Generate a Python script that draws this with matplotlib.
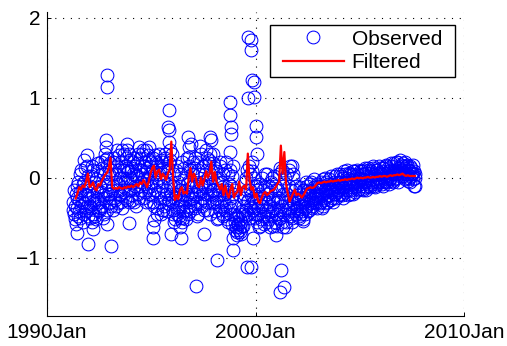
import numpy as np
import matplotlib
matplotlib.use("Agg")
import matplotlib.pyplot as plt
from matplotlib.path import Path

# ---------------- data ----------------
obs_start = 1991.25          # first semi-monthly observation (series A)
obs_b_start = 1991.27        # second interleaved observation series (B)
obs_per_year = 24
observed = (
    # 1991 (from Apr)
    [-0.30, -0.45, -0.52, -0.20, -0.38, -0.10, -0.48, -0.28, 0.05, -0.35, -0.15, -0.55,
     -0.05, -0.32, 0.12, -0.42, -0.22, 0.02]
    # 1992
    + [-0.25, -0.50, -0.10, -0.38, 0.15, -0.45, -0.28, -0.05, -0.52, -0.18, 0.08, -0.40,
       -0.30, -0.12, 0.20, -0.35, -0.22, 0.05, -0.45, 0.30, -0.15, 0.25, -0.08, -0.32]
    # 1993
    + [0.18, -0.20, -0.35, 0.05, -0.10, 0.25, -0.28, -0.05, 0.35, -0.15, -0.32, 0.10,
       -0.22, 0.20, -0.38, 0.00, 0.30, -0.12, -0.25, 0.15, -0.05, 0.08, -0.30, 0.22]
    # 1994
    + [-0.15, 0.12, -0.28, 0.05, 0.25, -0.10, -0.35, 0.18, 0.02, -0.20, 0.38, 0.10,
       -0.05, 0.30, -0.25, 0.15, 0.00, -0.18, 0.35, 0.08, -0.12, 0.22, -0.30, 0.05]
    # 1995
    + [0.20, -0.22, 0.10, -0.35, 0.28, -0.05, -0.45, 0.15, -0.18, 0.05, -0.30, 0.22,
       -0.10, -0.40, 0.12, -0.25, 0.30, -0.15, 0.00, -0.32, 0.18, -0.08, 0.35, -0.20]
    # 1996
    + [-0.30, -0.45, 0.05, -0.52, -0.20, -0.38, 0.15, -0.28, -0.48, -0.10, -0.35, 0.20,
       -0.22, -0.50, 0.00, -0.15, -0.40, 0.25, -0.05, -0.30, 0.10, -0.42, -0.18, 0.05]
    # 1997
    + [-0.25, 0.12, -0.38, -0.10, 0.20, -0.30, -0.45, 0.05, -0.18, 0.30, -0.35, -0.05,
       0.15, -0.28, -0.12, 0.35, -0.40, 0.00, 0.22, -0.20, -0.08, 0.10, -0.32, 0.18]
    # 1998
    + [-0.15, -0.42, 0.08, -0.30, -0.05, -0.50, -0.22, 0.15, -0.35, -0.12, -0.48, 0.05,
       -0.28, -0.40, 0.20, -0.18, -0.55, -0.08, 0.10, -0.38, -0.25, 0.02, -0.45, -0.15]
    # 1999
    + [-0.55, -0.62, -0.48, -0.68, -0.58, -0.65, -0.52, -0.70, -0.60, -0.45, -0.35, -0.20,
       -0.05, -0.40, 0.10, -0.28, -0.50, 0.05, -0.15, -0.38, 0.20, -0.25, -0.45, -0.10]
    # 2000
    + [-0.30, -0.55, -0.10, -0.45, -0.20, -0.60, -0.35, 0.00, -0.48, -0.25, -0.58, -0.12,
       -0.40, 0.05, -0.30, -0.52, -0.18, -0.62, -0.05, -0.42, -0.28, 0.02, -0.55, -0.15]
    # 2001
    + [-0.45, -0.60, -0.25, 0.05, -0.50, -0.35, 0.10, -0.62, -0.20, -0.40, 0.00, -0.55,
       -0.30, -0.45, -0.10, 0.15, -0.38, -0.25, -0.50, 0.05, -0.32, -0.15, -0.45, -0.22]
    # 2002
    + [-0.40, -0.30, -0.50, -0.20, -0.45, -0.35, -0.25, -0.52, -0.15, -0.38, -0.28, -0.10,
       -0.42, -0.22, -0.32, -0.18, -0.05, -0.35, -0.25, -0.12, -0.30, -0.20, -0.38, -0.08]
    # 2003
    + [-0.25, -0.15, -0.32, -0.05, -0.20, -0.35, -0.10, -0.28, 0.00, -0.18, -0.30, -0.08,
       -0.22, -0.12, -0.28, 0.02, -0.15, -0.25, -0.05, -0.20, -0.10, 0.05, -0.18, -0.12]
    # 2004
    + [-0.15, 0.05, -0.10, -0.22, 0.00, -0.12, 0.08, -0.18, -0.05, 0.10, -0.15, -0.02,
       -0.20, 0.05, -0.08, -0.12, 0.08, -0.05, -0.18, 0.02, -0.10, 0.10, -0.06, -0.14]
    # 2005
    + [0.00, -0.10, 0.08, -0.15, 0.05, -0.05, 0.12, -0.12, 0.02, -0.08, 0.10, -0.03,
       -0.12, 0.06, -0.06, 0.12, -0.10, 0.03, -0.04, 0.10, -0.08, 0.05, -0.02, 0.12]
    # 2006
    + [-0.05, 0.08, -0.10, 0.12, 0.02, -0.06, 0.15, -0.02, 0.08, -0.08, 0.10, 0.00,
       0.14, -0.04, 0.06, 0.18, -0.02, 0.10, 0.04, 0.20, -0.05, 0.12, 0.06, 0.16]
    # 2007 (to Aug)
    + [0.10, 0.18, 0.02, 0.12, -0.02, 0.15, 0.05, 0.10, 0.00, 0.08, -0.05, 0.12,
       0.04, 0.06, -0.10, 0.05]
)

observed_b = (
    # 1991
    [-0.40, -0.15, -0.35, -0.58, -0.25, -0.05, -0.42, -0.18, -0.50, 0.10, -0.30, -0.08,
     -0.45, -0.20, -0.38, 0.15, -0.10, -0.48]
    # 1992
    + [-0.15, -0.35, 0.02, -0.55, -0.22, 0.10, -0.32, -0.48, -0.02, -0.28, 0.18, -0.42,
       -0.10, -0.38, -0.18, 0.12, -0.50, -0.25, 0.22, -0.05, -0.40, 0.15, -0.20, 0.05]
    # 1993
    + [-0.30, 0.10, -0.15, -0.40, 0.20, -0.25, 0.05, -0.35, 0.15, -0.08, 0.28, -0.20,
       0.00, -0.30, 0.35, -0.18, 0.10, -0.05, 0.25, -0.28, 0.12, -0.15, 0.30, -0.02]
    # 1994
    + [0.08, -0.22, 0.20, -0.05, -0.30, 0.15, 0.02, -0.12, 0.30, -0.25, 0.10, 0.25,
       -0.15, 0.05, 0.35, -0.08, 0.20, -0.30, 0.12, -0.02, 0.28, -0.20, 0.15, -0.10]
    # 1995
    + [-0.05, 0.25, -0.30, 0.05, -0.15, 0.20, -0.38, 0.00, 0.30, -0.25, 0.10, -0.45,
       0.20, -0.05, -0.35, 0.25, -0.20, 0.08, -0.42, 0.12, -0.28, 0.22, -0.10, 0.30]
    # 1996
    + [-0.40, -0.10, -0.55, -0.25, 0.10, -0.45, -0.05, -0.35, -0.15, -0.50, 0.05, -0.28,
       -0.42, 0.12, -0.30, -0.52, -0.08, -0.20, -0.45, 0.15, -0.35, -0.12, -0.25, 0.20]
    # 1997
    + [-0.10, -0.35, 0.25, -0.20, -0.48, 0.10, -0.15, -0.32, 0.40, -0.08, -0.25, 0.15,
       -0.40, 0.05, -0.20, 0.25, -0.30, -0.10, 0.18, -0.45, 0.00, -0.22, 0.30, -0.15]
    # 1998
    + [-0.30, 0.12, -0.25, -0.52, 0.00, -0.15, -0.40, 0.20, -0.30, -0.05, -0.45, -0.20,
       0.10, -0.35, -0.15, -0.52, 0.05, -0.30, -0.45, -0.10, -0.58, -0.20, 0.15, -0.35]
    # 1999
    + [-0.65, -0.50, -0.72, -0.58, -0.45, -0.62, -0.68, -0.55, -0.42, -0.60, -0.25, -0.48,
       0.00, -0.30, -0.15, -0.45, 0.15, -0.35, -0.22, 0.08, -0.40, -0.30, 0.00, -0.50]
    # 2000
    + [-0.45, -0.15, -0.38, -0.62, -0.25, -0.08, -0.52, -0.35, -0.15, -0.45, 0.05, -0.30,
       -0.55, -0.20, -0.42, -0.10, -0.35, -0.48, 0.00, -0.25, -0.60, -0.38, -0.10, -0.45]
    # 2001
    + [-0.30, -0.15, -0.52, -0.40, 0.12, -0.28, -0.55, -0.10, -0.45, -0.30, -0.62, 0.05,
       -0.20, -0.38, 0.10, -0.48, -0.15, -0.55, -0.30, 0.00, -0.42, -0.25, -0.10, -0.38]
    # 2002
    + [-0.25, -0.48, -0.12, -0.35, -0.28, -0.42, -0.15, -0.30, -0.45, -0.20, -0.05, -0.35,
       -0.15, -0.40, -0.08, -0.28, -0.38, -0.15, -0.30, -0.02, -0.25, -0.32, -0.10, -0.22]
    # 2003
    + [-0.10, -0.30, -0.20, -0.12, -0.38, -0.02, -0.25, -0.15, -0.32, -0.06, -0.22, -0.14,
       -0.02, -0.28, -0.18, -0.08, -0.30, -0.10, -0.20, 0.02, -0.25, -0.15, -0.05, -0.22]
    # 2004
    + [-0.05, -0.20, 0.02, -0.12, -0.25, -0.05, 0.05, -0.15, -0.10, 0.00, -0.22, 0.06,
       -0.08, -0.15, 0.03, -0.20, -0.02, 0.08, -0.12, -0.06, 0.05, -0.16, 0.00, 0.08]
    # 2005
    + [-0.08, 0.05, -0.14, -0.02, 0.10, -0.06, -0.15, 0.06, -0.04, 0.12, -0.10, 0.02,
       0.08, -0.08, 0.14, -0.02, 0.05, -0.12, 0.10, 0.00, -0.06, 0.14, -0.04, 0.06]
    # 2006
    + [0.05, -0.08, 0.12, 0.00, -0.04, 0.16, 0.06, -0.06, 0.12, 0.02, -0.02, 0.18,
       0.05, 0.10, -0.06, 0.08, 0.14, 0.00, 0.20, 0.08, 0.12, 0.02, 0.22, 0.10]
    # 2007
    + [0.02, 0.14, 0.06, 0.20, 0.08, 0.00, 0.16, -0.04, 0.10, 0.14, 0.02, 0.06,
       0.16, -0.02, 0.08, 0.00]
)

outlier_dates = [1991.45, 1991.98, 1992.22, 1991.90, 1992.89, 1992.89, 1992.89, 1993.07,
                 1992.83, 1992.85, 1993.91, 1993.82, 1993.85, 1995.06, 1995.10, 1995.15,
                 1995.58, 1995.83, 1995.82, 1995.84, 1995.85, 1995.93, 1996.42, 1996.37,
                 1996.45, 1996.77, 1996.80, 1996.82, 1997.12, 1997.52, 1997.81, 1997.85,
                 1997.80, 1998.16, 1998.77, 1998.77, 1998.80, 1998.82, 1998.77, 1998.93,
                 1998.90, 1999.65, 1999.76, 1999.76, 1999.65, 1999.84, 1999.90, 1999.92,
                 2000.00, 2000.02, 2000.05, 1999.57, 1999.76, 1999.85, 2000.97, 2001.20,
                 2001.17, 2001.35, 2001.73, 2002.28, 2007.64, 1991.75, 1994.90, 1996.90]
outlier_values = [-0.69, -0.83, -0.64, 0.28, 1.28, 1.13, -0.58, -0.85,
                  0.47, 0.38, -0.57, 0.42, 0.35, -0.75, -0.62, -0.53,
                  -0.41, 0.84, 0.63, 0.59, 0.45, -0.70, -0.76, -0.62,
                  -0.55, 0.51, 0.38, 0.26, -1.35, -0.70, 0.51, 0.47,
                  0.30, -1.03, 0.95, 0.78, 0.63, 0.55, 0.32, -0.90,
                  -0.76, 1.76, 1.72, 1.59, 0.99, 1.22, 1.20, 1.01,
                  0.64, 0.51, 0.30, -1.12, -1.12, -0.75, -0.72, -1.16,
                  -1.43, -1.37, 0.15, -0.54, -0.11, 0.22, 0.38, 0.42]

filt_start = 1991.375        # monthly filtered estimate
filt_per_year = 12
filtered = (
    [-0.26, -0.20, -0.12, -0.15, -0.10, -0.12, -0.05, 0.05]
    + [-0.12, -0.10, -0.06, -0.14, -0.16, -0.08, -0.10, -0.04, 0.00, 0.04, 0.06, 0.12]
    + [0.25, -0.12, -0.14, -0.13, -0.14, -0.12, -0.13, -0.14, -0.12, -0.13, -0.11, -0.12]
    + [-0.10, -0.12, -0.10, -0.08, -0.11, -0.06, -0.08, -0.03, -0.07, -0.12, -0.05, 0.05]
    + [0.12, 0.15, 0.00, 0.08, 0.10, -0.02, 0.05, 0.02, -0.03, 0.05, 0.10, 0.45]
    + [0.00, -0.28, -0.22, -0.27, -0.15, -0.12, -0.20, -0.18, -0.20, 0.00, 0.12, -0.05]
    + [0.05, 0.00, -0.10, -0.12, 0.00, -0.10, -0.02, 0.08, 0.00, 0.05, 0.20, -0.05]
    + [0.07, -0.05, -0.10, -0.15, -0.08, -0.22, -0.10, -0.20, -0.25, -0.15, -0.08, -0.25]
    + [-0.20, -0.18, -0.05, -0.22, -0.12, -0.10, -0.15, 0.30, -0.03, -0.15, -0.12, -0.25]
    + [-0.20, -0.30, -0.32, -0.25, -0.20, -0.18, -0.22, -0.20, -0.17, -0.16, -0.15, -0.12]
    + [-0.08, -0.05, 0.40, 0.05, 0.32, -0.08, -0.20, -0.30, -0.25, -0.20, -0.15, -0.22]
    + [-0.20, -0.22, -0.25, -0.22, -0.18, -0.14, -0.13, -0.12, -0.13, -0.12, -0.10, -0.07]
    + [-0.06, -0.07, -0.06, -0.05, -0.06, -0.05, -0.05, -0.04, -0.05, -0.04, -0.04, -0.03]
    + [-0.04, -0.03, -0.03, -0.02, -0.03, -0.02, -0.02, -0.01, -0.02, -0.01, 0.00, -0.01]
    + [0.00, -0.01, 0.00, 0.00, 0.01, 0.00, 0.00, 0.01, 0.00, 0.01, 0.01, 0.02]
    + [0.01, 0.02, 0.02, 0.01, 0.02, 0.03, 0.02, 0.03, 0.03, 0.04, 0.03, 0.04]
    + [0.05, 0.03, 0.02, 0.03, 0.02, 0.02, 0.02, 0.02]
)

x_ticks = [1990, 2000, 2010]
x_tick_labels = ["1990Jan", "2000Jan", "2010Jan"]
y_ticks = [-1, 0, 1, 2]

# ---------------- plot ----------------
plt.rcParams["font.family"] = ["Liberation Sans", "DejaVu Sans"]
fig = plt.figure(figsize=(5.07, 3.46), dpi=100)
ax = fig.add_axes([0.0927, 0.0867, 0.8231, 0.8786])

obs_dates = obs_start + np.arange(len(observed)) / obs_per_year
obs_b_dates = obs_b_start + np.arange(len(observed_b)) / obs_per_year
filt_dates = filt_start + np.arange(len(filtered)) / filt_per_year
all_dates = np.concatenate([obs_dates, obs_b_dates, outlier_dates])
all_vals = np.concatenate([observed, observed_b, outlier_values])

ax.plot(all_dates, all_vals, linestyle="none", marker="o", markersize=9.2,
        markerfacecolor="none", markeredgecolor=(0, 0, 1), markeredgewidth=0.75,
        label="Observed")
ax.plot(filt_dates, filtered, color=(1, 0, 0), linewidth=1.6, label="Filtered")

ax.set_xlim(1990, 2010)
ax.set_ylim(-1.73, 2.07)
ax.set_xticks(x_ticks)
ax.set_xticklabels(x_tick_labels)
ax.set_yticks(y_ticks)
ax.tick_params(direction="in", length=3, width=0.7, labelsize=15, pad=5)
ax.spines["top"].set_visible(False)
ax.spines["right"].set_visible(False)
for s in ("left", "bottom"):
    ax.spines[s].set_linewidth(0.8)
ax.grid(True, color="black", linestyle=(0, (1, 6)), linewidth=0.8)

leg = ax.legend(loc="upper right", bbox_to_anchor=(0.9576, 0.957), fontsize=15,
                frameon=True, fancybox=False, edgecolor="black", framealpha=1,
                handlelength=2.93, handletextpad=0.38, borderpad=0.22,
                labelspacing=0.225, borderaxespad=0)
leg.get_frame().set_linewidth(1.0)


def wide_box(x0, y0, width, height, mutation_size):
    px = 0.4 * mutation_size
    x0 -= px
    width += 2 * px
    return Path([(x0, y0), (x0 + width, y0), (x0 + width, y0 + height),
                 (x0, y0 + height), (x0, y0)], closed=True)


leg.get_frame().set_boxstyle(wide_box)

fig.savefig("out.png", dpi=100)
